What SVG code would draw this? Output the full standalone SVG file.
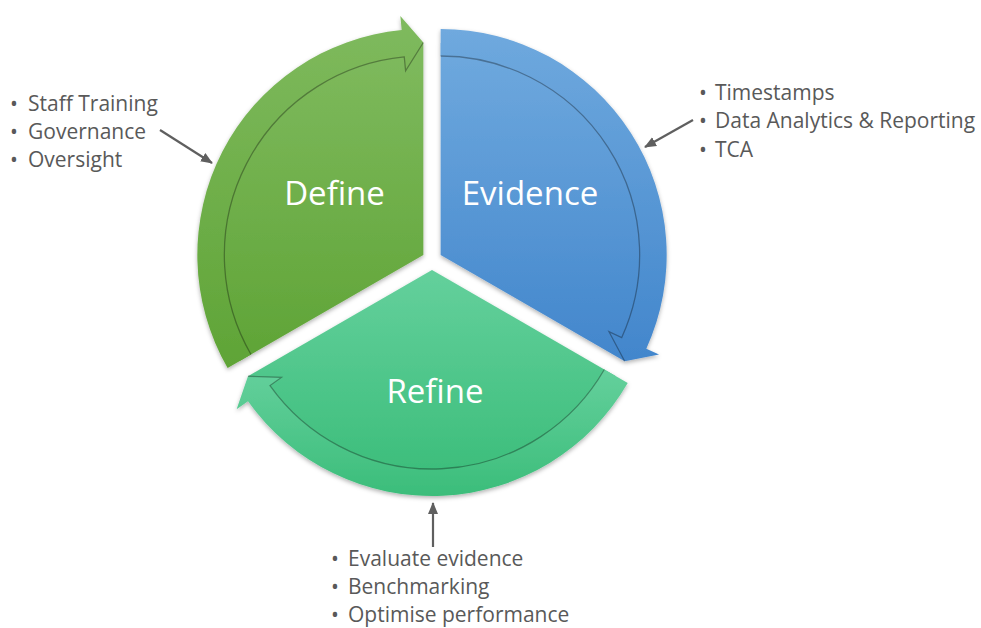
<svg xmlns="http://www.w3.org/2000/svg" width="981" height="628" viewBox="0 0 981 628">
  <defs>
    <linearGradient id="gDefine" x1="0" y1="0" x2="0" y2="1">
      <stop offset="0" stop-color="#7fba5e"/>
      <stop offset="1" stop-color="#5fa436"/>
    </linearGradient>
    <linearGradient id="gEvidence" x1="0" y1="0" x2="0" y2="1">
      <stop offset="0" stop-color="#6fa9de"/>
      <stop offset="1" stop-color="#4286cc"/>
    </linearGradient>
    <linearGradient id="gRefine" x1="0" y1="0" x2="0" y2="1">
      <stop offset="0" stop-color="#64d09c"/>
      <stop offset="1" stop-color="#3bbd7a"/>
    </linearGradient>
    <filter id="shadow" x="-10%" y="-10%" width="120%" height="125%">
      <feDropShadow dx="0" dy="2" stdDeviation="2" flood-color="#000" flood-opacity="0.3"/>
    </filter>
    <filter id="soften" x="-5%" y="-5%" width="110%" height="110%">
      <feGaussianBlur stdDeviation="0.7"/>
    </filter>
    <marker id="head" markerUnits="userSpaceOnUse" markerWidth="12" markerHeight="12" viewBox="0 0 12 12" refX="11" refY="6" orient="auto">
      <path d="M0,1 L12,6 L0,11 Z" fill="#5f5f5f"/>
    </marker>
    <style>
      .label { font-family: "Open Sans", "Noto Sans", "Liberation Sans", sans-serif; font-size: 33px; fill: #ffffff; text-anchor: middle; }
      .note { font-family: "Open Sans", "Noto Sans", "Liberation Sans", sans-serif; font-size: 21px; fill: #595959; }
      .edge { fill: none; stroke: #000; stroke-opacity: 0.32; stroke-width: 1.3; filter: url(#soften); }
      .link { fill: none; stroke: #5f5f5f; stroke-width: 2.2; marker-end: url(#head); }
    </style>
  </defs>

  <!-- Define segment: wedge from 90deg to 210deg with a clockwise curved arrow -->
  <g id="define">
    <g filter="url(#shadow)">
      <path d="M423.34,255 L423.34,43 A212,212 0 0 0 239.74,361 Z" fill="url(#gDefine)"/>
      <path d="M227.62,368 A226,226 0 0 1 401.68,30.04 L400.34,16.1 L423.34,42.5 L405.61,70.85 L404.27,56.92 A199,199 0 0 0 251.0,354.5 Z" fill="url(#gDefine)"/>
    </g>
    <path class="edge" d="M251.0,354.5 A199,199 0 0 1 404.27,56.92 L405.61,70.85 L423.34,42.5"/>
    <text class="label" x="334.5" y="205">Define</text>
  </g>

  <!-- Evidence segment: wedge from 90deg to -30deg -->
  <g id="evidence">
    <g filter="url(#shadow)">
      <path d="M440.66,255 L440.66,43 A212,212 0 0 1 624.26,361 Z" fill="url(#gEvidence)"/>
      <path d="M440.66,29 A226,226 0 0 1 646.31,348.72 L659.05,354.53 L624.69,361.25 L609.0,331.72 L621.74,337.52 A199,199 0 0 0 440.66,56 Z" fill="url(#gEvidence)"/>
    </g>
    <path class="edge" d="M440.66,56 A199,199 0 0 1 621.74,337.52 L609.0,331.72 L624.69,361.25"/>
    <text class="label" x="530" y="205">Evidence</text>
  </g>

  <!-- Refine segment: wedge from 210deg to 330deg (bottom) -->
  <g id="refine">
    <g filter="url(#shadow)">
      <path d="M432,270 L615.6,376 A212,212 0 0 1 248.4,376 Z" fill="url(#gRefine)"/>
      <path d="M627.72,383 A226,226 0 0 1 248.01,401.24 L236.61,409.37 L247.97,376.25 L281.39,377.43 L269.99,385.56 A199,199 0 0 0 604.34,369.5 Z" fill="url(#gRefine)"/>
    </g>
    <path class="edge" d="M604.34,369.5 A199,199 0 0 1 269.99,385.56 L281.39,377.43 L247.97,376.25"/>
    <text class="label" x="435" y="403">Refine</text>
  </g>

  <!-- Bullet notes -->
  <g id="notes-define">
    <text class="note" x="10" y="111">•</text>
    <text class="note" x="28" y="111">Staff Training</text>
    <text class="note" x="10" y="139">•</text>
    <text class="note" x="28" y="139">Governance</text>
    <text class="note" x="10" y="167">•</text>
    <text class="note" x="28" y="167">Oversight</text>
  </g>
  <g id="notes-evidence">
    <text class="note" x="699" y="100">•</text>
    <text class="note" x="715" y="100">Timestamps</text>
    <text class="note" x="699" y="128">•</text>
    <text class="note" x="715" y="128">Data Analytics &amp; Reporting</text>
    <text class="note" x="699" y="157">•</text>
    <text class="note" x="715" y="157">TCA</text>
  </g>
  <g id="notes-refine">
    <text class="note" x="331" y="566">•</text>
    <text class="note" x="348" y="566">Evaluate evidence</text>
    <text class="note" x="331" y="594">•</text>
    <text class="note" x="348" y="594">Benchmarking</text>
    <text class="note" x="331" y="622">•</text>
    <text class="note" x="348" y="622">Optimise performance</text>
  </g>

  <!-- Connectors from notes to segments -->
  <g id="connectors">
    <line class="link" x1="160" y1="130" x2="212" y2="163"/>
    <line class="link" x1="693" y1="120" x2="645" y2="147"/>
    <line class="link" x1="433" y1="547" x2="433" y2="503"/>
  </g>
</svg>
